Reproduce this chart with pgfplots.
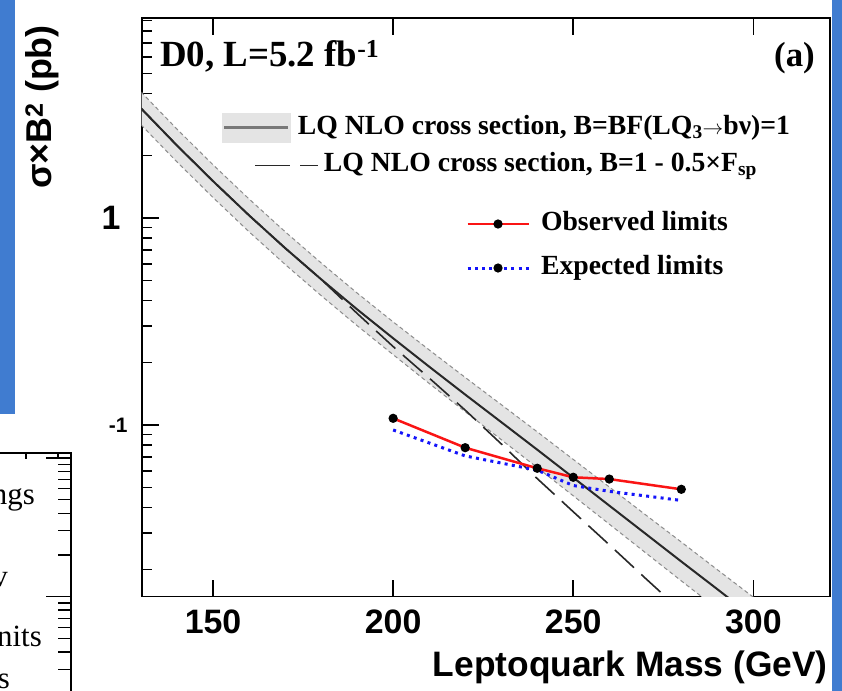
\documentclass[border=0pt]{standalone}
\usepackage{fontspec}
\setmainfont{Liberation Serif}
\newfontfamily\helv{Liberation Sans}
\usepackage{pgfplots}
\usepackage{pgfplotstable}
\pgfplotsset{compat=1.18}
\definecolor{slideblue}{RGB}{64,124,208}
\definecolor{bandgray}{RGB}{228,228,228}
\definecolor{edgegray}{RGB}{140,140,140}
\definecolor{lqline}{RGB}{40,40,40}
\definecolor{legline}{RGB}{120,120,120}
\definecolor{obsred}{RGB}{250,20,20}
\definecolor{expblue}{RGB}{20,20,250}
\newcommand{\legfont}{\bfseries\fontsize{27.8}{30}\selectfont}
\newcommand{\tickfont}{\helv\bfseries\fontsize{34}{36}\selectfont}
\newcommand{\arr}{\ensuremath{\scriptstyle\rightarrow}}
\pgfplotsset{
  bandlegend/.style={legend image code/.code={\fill[bandgray] (0bp,-14.5bp) rectangle (68bp,14.5bp); \draw[legline, line width=3bp] (2bp,0bp) -- (66bp,0bp);}},
  dashlegend/.style={legend image code/.code={\draw[lqline, line width=1.5bp] (33bp,0bp) -- (68bp,0bp) (78bp,0bp) -- (96bp,0bp);}},
  limlegend/.style={legend image code/.code={\draw[mark repeat=2, mark phase=2, ##1] plot coordinates {(0bp,0bp) (30.5bp,0bp) (61bp,0bp)};}},
}

% LQ NLO cross section (central, upper, lower of band), pb
\pgfplotstableread{
m c up lo
130 3.388 4.066 2.823
140 2.239 2.687 1.866
150 1.507 1.808 1.256
160 1.030 1.236 0.858
170 0.716 0.859 0.597
180 0.506 0.607 0.422
190 0.362 0.434 0.302
200 0.2624 0.315 0.2187
210 0.1914 0.2306 0.1588
220 0.1403 0.1698 0.1160
230 0.1033 0.1255 0.0850
240 0.0760 0.0927 0.0623
250 0.0557 0.0682 0.0455
260 0.0408 0.0502 0.0332
270 0.0299 0.0369 0.0242
280 0.0219 0.0272 0.01766
290 0.0161 0.0200 0.01293
300 0.01178 0.01473 0.00942
310 0.00863 0.01083 0.00688
}\theory

% LQ NLO cross section with B = 1 - 0.5 F_sp
\pgfplotstableread{
m d
130 3.388
140 2.239
150 1.507
160 1.030
170 0.716
180 0.506
190 0.346
200 0.2393
210 0.1687
220 0.1180
230 0.0811
240 0.0551
250 0.0381
260 0.0264
270 0.0182
280 0.01262
}\dashtab

% limits
\pgfplotstableread{
m obs exp
200 0.1077 0.0946
220 0.0777 0.0709
240 0.0618 0.0605
250 0.0559 0.0510
260 0.0548 0.0478
280 0.0489 0.0432
}\limtab

\begin{document}
\begin{tikzpicture}
\fill[white] (0,0) rectangle (842bp,691bp);
\fill[slideblue] (0,277bp) rectangle (15bp,691bp);
\fill[slideblue] (832bp,0) rectangle (842bp,691bp);

\begin{scope}[overlay]
\clip (0,0) rectangle (842bp,691bp);
% partly hidden second chart, lower left
\begin{axis}[
  at={(71bp,238bp)}, anchor=north east,
  scale only axis, width=300bp, height=400bp,
  xmin=0, xmax=300, ymode=log, ymin=0.01419, ymax=10.87,
  axis line style={line width=1.5bp, black},
  xtick=\empty, xtick pos=right, ytick pos=right,
  extra x ticks={255,287}, extra x tick labels={},
  extra x tick style={major tick length=6bp},
  ytick={1,10}, yticklabels={},
  minor ytick={0.2,0.3,0.4,0.5,0.6,0.7,0.8,0.9,2,3,4,5,6,7,8,9},
  major tick length=25bp, minor tick length=13bp,
  tick style={line width=1.3bp, black},
]
\end{axis}
\node[anchor=base east, inner sep=0pt, font=\fontsize{31}{33}\selectfont] at (35bp,186bp) {ngs};
\node[anchor=base east, inner sep=0pt, font=\fontsize{31}{33}\selectfont] at (8bp,104bp) {v};
\node[anchor=base east, inner sep=0pt, font=\fontsize{31}{33}\selectfont] at (42bp,44bp) {nits};
\node[anchor=base east, inner sep=0pt, font=\fontsize{31}{33}\selectfont] at (10bp,3bp) {s};
\end{scope}

% main chart: frame, theory curves, first legend
\begin{axis}[
  at={(141.7bp,94.5bp)}, anchor=south west,
  scale only axis, width=688bp, height=578.5bp,
  xmin=130.2, xmax=321.2,
  ymode=log, ymin=0.01484, ymax=9.25,
  axis line style={line width=1.8bp, black},
  xtick={150,200,250,300},
  xticklabels={150,200,250,300},
  xtick pos=both, ytick pos=left,
  ytick={0.1,1},
  yticklabels={{\fontsize{21}{21}\selectfont -1\kern14bp},{\fontsize{34}{34}\selectfont\raisebox{-5bp}{1}\kern21bp}},
  minor ytick={0.02,0.03,0.04,0.05,0.06,0.07,0.08,0.09,0.2,0.3,0.4,0.5,0.6,0.7,0.8,0.9,2,3,4,5,6,7,8,9},
  major tick length=17bp, minor tick length=10bp,
  tick style={line width=1.5bp, black},
  xticklabel style={font=\tickfont, inner sep=0pt, anchor=north, yshift=-13.5bp},
  yticklabel style={font=\helv\bfseries, inner sep=0pt, anchor=east},
  xlabel={Leptoquark Mass (GeV)},
  every axis x label/.style={at={(axis description cs:0.99753,-0.13743)}, anchor=base east, inner sep=0pt, font=\helv\bfseries\fontsize{35.5}{38}\selectfont},
  ylabel={σ×B\textsuperscript{2} (pb)},
  every axis y label/.style={at={(axis description cs:-0.13038,0.98790)}, rotate=90, anchor=base east, inner sep=0pt, font=\helv\bfseries\fontsize{36}{38}\selectfont},
  legend style={at={(axis description cs:0.1167,0.8358)}, anchor=north west, draw=none, fill=none, inner sep=0pt, outer sep=0pt, row sep=10.5bp, column sep=5bp, nodes={inner sep=0pt, text height=19bp, text depth=6bp}, font=\legfont},
  legend cell align=left,
]
\addplot[fill=bandgray, draw=none, forget plot] coordinates {
(130,4.066) (140,2.687) (150,1.808) (160,1.236) (170,0.859) (180,0.607) (190,0.434) (200,0.315) (210,0.2306) (220,0.1698) (230,0.1255) (240,0.0927) (250,0.0682) (260,0.0502) (270,0.0369) (280,0.0272) (290,0.0200) (300,0.01473) (310,0.01083)
(310,0.00688) (300,0.00942) (290,0.01293) (280,0.01766) (270,0.0242) (260,0.0332) (250,0.0455) (240,0.0623) (230,0.0850) (220,0.1160) (210,0.1588) (200,0.2187) (190,0.302) (180,0.422) (170,0.597) (160,0.858) (150,1.256) (140,1.866) (130,2.823)
};
\addplot[edgegray, line width=1bp, dash pattern=on 4bp off 3bp, forget plot] table[x=m, y=up] {\theory};
\addplot[edgegray, line width=1bp, dash pattern=on 4bp off 3bp, forget plot] table[x=m, y=lo] {\theory};
\addplot[lqline, line width=1.6bp, dash pattern=on 26bp off 10bp, forget plot] table[x=m, y=d] {\dashtab};
\addplot[lqline, line width=2bp, forget plot] table[x=m, y=c] {\theory};
\addlegendimage{bandlegend}
\addlegendentry{{\kern-26bp LQ NLO cross section, B=BF(LQ\textsubscript{3}\arr bν)=1}}
\addlegendimage{dashlegend}
\addlegendentry{{LQ NLO cross section, B=1 - 0.5×F\textsubscript{sp}}}
\end{axis}

% limits and second legend
\begin{axis}[
  at={(141.7bp,94.5bp)}, anchor=south west,
  scale only axis, width=688bp, height=578.5bp,
  xmin=130.2, xmax=321.2, ymode=log, ymin=0.01484, ymax=9.25,
  hide axis,
  legend style={at={(axis description cs:0.4714,0.6655)}, anchor=north west, draw=none, fill=none, inner sep=0pt, outer sep=0pt, row sep=19bp, column sep=11bp, nodes={inner sep=0pt, text height=19bp, text depth=6bp}, font=\legfont},
  legend cell align=left,
]
\addplot[expblue, line width=3bp, dash pattern=on 3bp off 4.3bp, forget plot] table[x=m, y=exp] {\limtab};
\addplot[obsred, line width=2.5bp, mark=*, mark size=3.3bp, mark options={fill=black, draw=black, solid}, forget plot] table[x=m, y=obs] {\limtab};
\addlegendimage{limlegend, obsred, line width=2.5bp, mark=*, mark size=3.3bp, mark options={fill=black, draw=black, solid}}
\addlegendentry{Observed limits}
\addlegendimage{limlegend, expblue, line width=3bp, dash pattern=on 3bp off 4.3bp, mark=*, mark size=3bp, mark options={fill=black, draw=black, solid}}
\addlegendentry{Expected limits}
\end{axis}

\node[anchor=base west, inner sep=0pt, font=\bfseries\fontsize{37}{40}\selectfont] at (160bp,624bp) {D0, L=5.2 fb\textsuperscript{-1}};
\node[anchor=base east, inner sep=0pt, font=\bfseries\fontsize{35}{38}\selectfont] at (815bp,624bp) {(a)};
\end{tikzpicture}
\end{document}
